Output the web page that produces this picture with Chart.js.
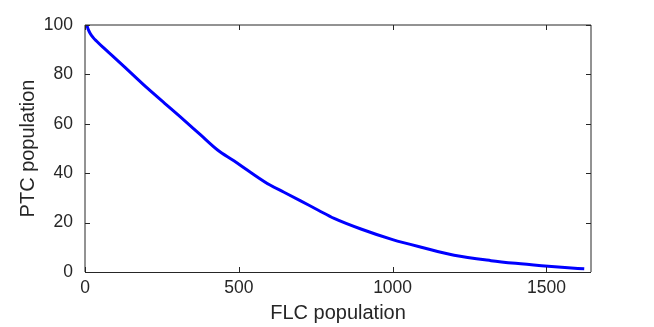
<!DOCTYPE html>
<html>
<head>
<meta charset="utf-8">
<script src="https://cdn.jsdelivr.net/npm/chart.js@4/dist/chart.umd.min.js"></script>
<style>
  html, body { margin: 0; padding: 0; background: #ffffff; }
  #wrap { width: 654px; height: 327px; }
</style>
</head>
<body>
<div id="wrap"><canvas id="c" width="654" height="327"></canvas></div>
<script>
// ---- data ----
const flcPopulation = [6, 10, 16, 26, 38, 60, 92, 150, 201, 260, 310, 375, 430, 484, 540, 600, 647, 701, 760, 810, 897, 1000, 1100, 1200, 1320, 1400, 1484, 1560, 1623];
const ptcPopulation = [100, 98.4, 96.8, 95.0, 93.4, 90.8, 87.2, 80.5, 74.6, 68.2, 62.8, 55.6, 49.5, 45.0, 40.2, 35.3, 32.3, 28.8, 24.9, 21.7, 17.4, 13.1, 9.8, 6.8, 4.6, 3.5, 2.55, 1.8, 1.3];
const xTicks = [0, 500, 1000, 1500];
const yTicks = [0, 20, 40, 60, 80, 100];
const xLabel = 'FLC population';
const yLabel = 'PTC population';

const points = flcPopulation.map((x, i) => ({ x: x, y: ptcPopulation[i] }));

const axisColor = '#262626';

const boxPlugin = {
  id: 'matlabBox',
  afterDatasetsDraw(chart) {
    const { ctx, chartArea: a, scales } = chart;
    ctx.save();
    ctx.strokeStyle = axisColor;
    ctx.lineWidth = 1;
    ctx.beginPath();
    ctx.moveTo(a.left, a.bottom + 0.5);
    ctx.lineTo(a.right, a.bottom + 0.5);
    ctx.moveTo(a.left, a.top);
    ctx.lineTo(a.left, a.bottom);
    ctx.moveTo(a.left, a.top);
    ctx.lineTo(a.right, a.top);
    ctx.moveTo(a.right, a.top);
    ctx.lineTo(a.right, a.bottom);
    ctx.stroke();
    const tl = 5;
    ctx.beginPath();
    xTicks.forEach(v => {
      const px = Math.round(scales.x.getPixelForValue(v)) + 0.5;
      ctx.moveTo(px, a.bottom); ctx.lineTo(px, a.bottom - tl);
      ctx.moveTo(px, a.top); ctx.lineTo(px, a.top + tl);
    });
    yTicks.forEach(v => {
      const py = Math.round(scales.y.getPixelForValue(v)) + 0.5;
      ctx.moveTo(a.left, py); ctx.lineTo(a.left + tl, py);
      ctx.moveTo(a.right, py); ctx.lineTo(a.right - tl, py);
    });
    ctx.stroke();
    ctx.restore();
  }
};

const tickFont = { family: '"Liberation Sans", Arial, Helvetica, sans-serif', size: 17.5 };
const titleFont = { family: '"Liberation Sans", Arial, Helvetica, sans-serif', size: 20 };

new Chart(document.getElementById('c'), {
  type: 'line',
  data: {
    datasets: [{
      data: points,
      borderColor: '#0000ff',
      backgroundColor: '#0000ff',
      borderWidth: 3,
      pointRadius: 0,
      cubicInterpolationMode: 'monotone',
      fill: false
    }]
  },
  options: {
    responsive: false,
    animation: false,
    devicePixelRatio: 1,
    layout: { padding: { left: 0, top: 25, right: 63, bottom: 0 } },
    plugins: { legend: { display: false }, tooltip: { enabled: false } },
    scales: {
      x: {
        type: 'linear',
        min: 0,
        max: 1645,
        grid: { display: false, drawTicks: false },
        border: { display: false },
        afterBuildTicks: s => { s.ticks = xTicks.map(v => ({ value: v })); },
        afterFit: s => { s.height = 55; },
        ticks: { color: axisColor, font: tickFont, padding: 6, maxRotation: 0, autoSkip: false, callback: v => String(v) },
        title: { display: true, text: xLabel, color: axisColor, font: titleFont, padding: { top: 0, bottom: 2 } }
      },
      y: {
        type: 'linear',
        min: 0,
        max: 100,
        grid: { display: false, drawTicks: false },
        border: { display: false },
        afterBuildTicks: s => { s.ticks = yTicks.map(v => ({ value: v })); },
        afterFit: s => { s.width = 85; },
        ticks: { color: axisColor, font: tickFont, padding: 12, autoSkip: false, callback: v => String(v) },
        title: { display: true, text: yLabel, color: axisColor, font: titleFont, padding: { top: 16, bottom: 0 } }
      }
    }
  },
  plugins: [boxPlugin]
});
</script>
</body>
</html>
